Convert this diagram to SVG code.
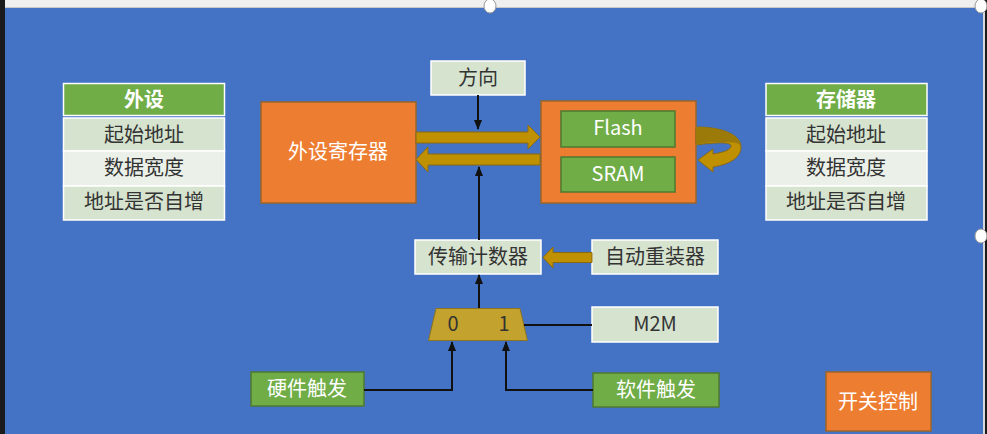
<svg xmlns="http://www.w3.org/2000/svg" width="987" height="434" viewBox="0 0 987 434">
<defs>
<marker id="ah" markerUnits="userSpaceOnUse" markerWidth="10" markerHeight="10" viewBox="0 0 10 10" refX="9" refY="5" orient="auto">
<path d="M0,1 L10,5 L0,9 Z" fill="#111"/>
</marker>
<style>
text{font-family:"Noto Sans CJK SC","Noto Sans",sans-serif;font-size:20px;text-anchor:middle}
.dk{fill:#333}
.wt{fill:#fff}
.lt{fill:#d6e3cf;stroke:#fff;stroke-width:1.5}
.lt2{fill:#ebf1e9;stroke:#fff;stroke-width:1.5}
.hd{fill:#70ad47;stroke:#fff;stroke-width:1.5}
.or{fill:#ed7d31;stroke:#9c6628;stroke-width:1.5}
.gr{fill:#70ad47;stroke:#4e7a30;stroke-width:1.5}
.bus{fill:#bf9000;stroke:#8a6a10;stroke-width:1}
.ln{fill:none;stroke:#111;stroke-width:2}
</style>
</defs>
<rect x="0" y="0" width="987" height="434" fill="#4472c4"/>
<rect x="0" y="0" width="987" height="7" fill="#efefef"/>
<line x1="0" y1="7.5" x2="983" y2="7.5" stroke="#c8c8c8" stroke-width="1"/>
<rect x="0" y="0" width="5" height="434" fill="#1a1a1a"/>
<rect x="983" y="0" width="2" height="434" fill="#d8d8d8"/>
<rect x="985" y="0" width="2" height="434" fill="#1a1a1a"/>
<g id="handles" fill="#fff" stroke="#999" stroke-width="1">
<ellipse cx="490" cy="6" rx="6" ry="7"/>
<ellipse cx="981" cy="6" rx="6" ry="7"/>
<ellipse cx="981" cy="236" rx="6" ry="7"/>
</g>

<g id="table-peripheral">
<rect class="hd" x="63.5" y="83.5" width="161" height="32"/>
<rect class="lt" x="63.5" y="118" width="161" height="33"/>
<rect class="lt2" x="63.5" y="151" width="161" height="35"/>
<rect class="lt" x="63.5" y="186" width="161" height="34"/>
<text class="wt" x="144" y="107" font-weight="bold">外设</text>
<text class="dk" x="144" y="142">起始地址</text>
<text class="dk" x="144" y="175">数据宽度</text>
<text class="dk" x="144" y="209">地址是否自增</text>
</g>

<g id="table-memory">
<rect class="hd" x="766" y="83.5" width="161" height="32"/>
<rect class="lt" x="766" y="118" width="161" height="33"/>
<rect class="lt2" x="766" y="151" width="161" height="35"/>
<rect class="lt" x="766" y="186" width="161" height="34"/>
<text class="wt" x="846" y="107" font-weight="bold">存储器</text>
<text class="dk" x="846" y="142">起始地址</text>
<text class="dk" x="846" y="175">数据宽度</text>
<text class="dk" x="846" y="209">地址是否自增</text>
</g>

<g id="direction">
<rect class="lt" x="431" y="61" width="94" height="34"/>
<text class="dk" x="478" y="85">方向</text>
</g>

<g id="periph-reg">
<rect class="or" x="261" y="102" width="155" height="101"/>
<text class="wt" x="338" y="159">外设寄存器</text>
</g>

<g id="memory">
<rect class="or" x="541" y="101" width="155" height="102"/>
<g id="flash">
<rect class="gr" x="561" y="111" width="114" height="36"/>
<text class="wt" x="618" y="135" font-size="19">Flash</text>
</g>
<g id="sram">
<rect class="gr" x="561" y="157" width="114" height="35"/>
<text class="wt" x="618" y="181" font-size="19">SRAM</text>
</g>
</g>

<g id="counter">
<rect class="lt" x="415" y="240" width="126" height="34"/>
<text class="dk" x="478" y="264">传输计数器</text>
</g>

<g id="reload">
<rect class="lt" x="592" y="240" width="126" height="34"/>
<text class="dk" x="655" y="264">自动重装器</text>
</g>

<g id="mux">
<path d="M436,308.5 H520 L527.5,340.5 H428.5 Z" fill="#c4a22e" stroke="#8c7320" stroke-width="1"/>
<text class="dk" x="453" y="331" font-size="19">0</text>
<text class="dk" x="504" y="331" font-size="19">1</text>
</g>

<g id="m2m">
<rect class="lt" x="592" y="307" width="126" height="35"/>
<text class="dk" x="655" y="331" font-size="19">M2M</text>
</g>

<g id="hw-trigger">
<rect class="gr" x="251" y="372" width="113" height="34"/>
<text class="wt" x="307" y="396">硬件触发</text>
</g>

<g id="sw-trigger">
<rect class="gr" x="593" y="373" width="126" height="34"/>
<text class="wt" x="656" y="397">软件触发</text>
</g>

<g id="switch-ctrl">
<rect class="or" x="826" y="372" width="105" height="59"/>
<text class="wt" x="878" y="409">开关控制</text>
</g>

<g id="connectors">
<path class="bus" d="M416,132 H528 V125 L540,137 L528,149 V143 H416 Z"/>
<path class="bus" d="M540,154 H428 V147 L416,159.5 L428,172 V165 H540 Z"/>
<path class="bus" d="M592,252.5 H553 V247 L543,257.5 L553,268 V262.5 H592 Z"/>
<path d="M696,127 C725,127 741,136 741,147 C741,157 731,164 713,167 L713,172 L698,160 L713,149 L713,154 C726,152 731,149 731,146 C731,142 718,142 696,145 Z" fill="#bf9000" stroke="#8a6a10" stroke-width="1"/>
<path d="M696,127 C725,127 741,136 741,147 C739,141 728,142 715,142 C708,142 700,144 696,145 Z" fill="#9c7a0a"/>
<line class="ln" x1="478" y1="95" x2="478" y2="129" marker-end="url(#ah)"/>
<line class="ln" x1="479" y1="240" x2="479" y2="167" marker-end="url(#ah)"/>
<line class="ln" x1="479" y1="308" x2="479" y2="275" marker-end="url(#ah)"/>
<path class="ln" d="M364,390 H452 V342" marker-end="url(#ah)"/>
<path class="ln" d="M593,390 H506 V342" marker-end="url(#ah)"/>
<line class="ln" x1="524" y1="325" x2="592" y2="325"/>
</g>
</svg>
